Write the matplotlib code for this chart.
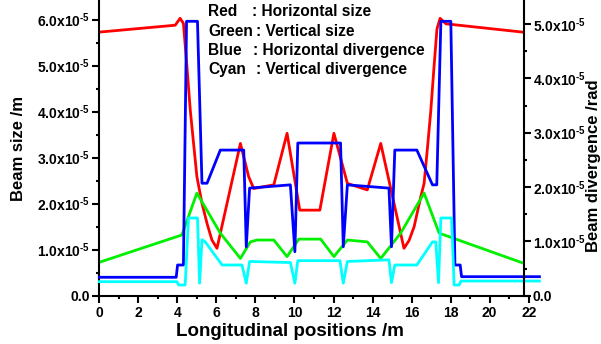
import matplotlib
matplotlib.use("Agg")
import matplotlib.pyplot as plt
from matplotlib.ticker import FuncFormatter, MultipleLocator

plt.rcParams['font.family'] = ['Liberation Sans', 'DejaVu Sans']
plt.rcParams['font.weight'] = 'bold'
plt.rcParams['mathtext.fontset'] = 'custom'
plt.rcParams['mathtext.rm'] = 'Liberation Sans:bold'
plt.rcParams['mathtext.it'] = 'Liberation Sans:bold'
plt.rcParams['mathtext.bf'] = 'Liberation Sans:bold'
plt.rcParams['mathtext.default'] = 'rm'

# ---- data (beam size in units of 1e-5 m, divergence in units of 1e-5 rad) ----
red_x = [0, 3.89, 4.14, 4.31, 4.49, 4.66, 4.83, 5.00, 5.26, 5.52, 5.77, 6.03,
         7.23, 7.65, 7.91, 8.94, 9.62, 10.27, 11.30, 12.02, 12.71, 13.73, 14.42,
         15.61, 15.87, 16.13, 16.47, 16.64, 16.81, 16.98, 17.15, 17.30, 17.46, 17.76, 21.69]
red_y = [5.73, 5.88, 6.03, 5.92, 4.98, 4.04, 3.31, 2.59, 2.01, 1.57, 1.21, 1.03,
         3.31, 2.59, 2.33, 2.41, 3.53, 1.86, 1.86, 3.53, 2.44, 2.30, 3.31,
         1.03, 1.20, 1.50, 2.15, 2.44, 3.20, 4.00, 4.98, 5.80, 6.03, 5.91, 5.73]

green_x = [0, 4.23, 5.00, 6.20, 7.23, 7.74, 8.08, 8.94, 9.62, 10.22, 11.34, 12.02,
           12.71, 13.73, 14.42, 15.44, 16.64, 17.41, 21.64]
green_y = [0.726, 1.32, 2.23, 1.36, 0.81, 1.17, 1.21, 1.21, 0.85, 1.23, 1.23, 0.85,
           1.21, 1.17, 0.81, 1.36, 2.23, 1.36, 0.72]

blue_x = [0, 3.94, 4.01, 4.31, 4.47, 5.03, 5.26, 5.52, 6.20, 7.40, 7.53, 7.70,
          9.79, 10.02, 10.17, 12.36, 12.50, 12.71, 14.84, 14.97, 15.14, 16.27,
          17.07, 17.29, 17.50, 18.01, 18.22, 18.49, 18.56, 22.55]
blue_y = [0.339, 0.339, 0.565, 0.565, 5.05, 5.05, 2.07, 2.07, 2.68, 2.68, 0.90, 1.98,
          2.04, 0.81, 2.81, 2.81, 0.90, 2.04, 1.98, 0.90, 2.68, 2.68,
          2.04, 2.04, 5.05, 5.05, 0.565, 0.565, 0.35, 0.35]

cyan_x = [0, 3.98, 4.06, 4.40, 4.57, 5.03, 5.14, 5.26, 5.43, 6.29, 7.31, 7.53, 7.70,
          9.79, 10.02, 10.17, 12.33, 12.50, 12.71, 14.84, 14.97, 15.14, 16.27,
          17.07, 17.24, 17.38, 17.50, 18.05, 18.18, 18.44, 18.53, 22.55]
cyan_y = [0.258, 0.258, 0.197, 0.197, 1.43, 1.43, 0.23, 1.03, 0.99, 0.565, 0.565, 0.23, 0.63,
          0.61, 0.23, 0.645, 0.645, 0.23, 0.63, 0.66, 0.24, 0.565, 0.565,
          0.99, 0.99, 0.24, 1.43, 1.43, 0.197, 0.197, 0.27, 0.27]

legend_names = ["Red", "Green", "Blue", "Cyan"]
legend_desc = [": Horizontal size", ": Vertical size",
               ": Horizontal divergence", ": Vertical divergence"]

xticks = [0, 2, 4, 6, 8, 10, 12, 14, 16, 18, 20, 22]
scale = 1e-5

fig = plt.figure(figsize=(6.01, 3.44), dpi=100)
ax = fig.add_axes([99.3 / 601, 48.3 / 344, 429.4 / 601, 295.7 / 344])
ax2 = ax.twinx()

lw = 2.0
ax.plot(red_x, [v * scale for v in red_y], color='#FF0000', lw=lw)
ax.plot(green_x, [v * scale for v in green_y], color='#00F000', lw=lw)
ax2.plot(blue_x, [v * scale for v in blue_y], color='#0000FF', lw=lw, clip_on=False)
ax2.plot(cyan_x, [v * scale for v in cyan_y], color='#00FFFF', lw=lw, clip_on=False)

ax.set_xlim(0, 22)
ax.set_ylim(0, 6.428e-5)
ax2.set_ylim(0, 5.442e-5)

def fmt(v, pos):
    m = v / scale
    if abs(m) < 1e-9:
        return "0.0"
    return "%.1fx10$^{\\text{-5}}$" % m

for a in (ax, ax2):
    a.yaxis.set_major_locator(MultipleLocator(1e-5))
    a.yaxis.set_minor_locator(MultipleLocator(0.5e-5))
    a.yaxis.set_major_formatter(FuncFormatter(fmt))
    for s in a.spines.values():
        s.set_linewidth(1.5)
    a.spines['top'].set_visible(False)

ax.spines['right'].set_visible(False)
ax2.spines['left'].set_visible(False)
ax2.spines['bottom'].set_visible(False)
ax2.spines['right'].set_position(('data', 21.77))

ax.set_xticks(xticks)
ax.xaxis.set_minor_locator(MultipleLocator(1))
ax.tick_params(axis='x', which='major', direction='out', length=5, width=1.5,
               labelsize=10, pad=2.5)
ax.tick_params(axis='x', which='minor', direction='out', length=2.5, width=1.5)
ax.tick_params(axis='y', which='major', direction='out', length=5, width=1.5,
               labelsize=10, pad=2)
ax.tick_params(axis='y', which='minor', direction='out', length=2.5, width=1.5)
ax2.tick_params(axis='y', which='major', direction='out', length=5, width=1.5,
                labelsize=10, pad=1)
ax2.tick_params(axis='y', which='minor', direction='out', length=2.5, width=1.5)

for lab in ax.get_xticklabels() + ax.get_yticklabels() + ax2.get_yticklabels():
    lab.set_fontweight('bold')

fig.text(290 / 601, 1 - 331 / 344, "Longitudinal positions /m", ha='center',
         va='center', fontsize=13.5, fontweight='bold')
fig.text(18.3 / 601, 1 - 148.5 / 344, "Beam size /m", ha='center', va='center',
         rotation=90, fontsize=12, fontweight='bold')
fig.text(593.5 / 601, 1 - 165.8 / 344, "Beam divergence /rad", ha='center',
         va='center', rotation=90, fontsize=12, fontweight='bold')

rows_y = [11.7, 31.2, 50.2, 69.2]
colon_px = [252.5, 256.5, 253.0, 256.0]
for name, desc, yy, cx in zip(legend_names, legend_desc, rows_y, colon_px):
    fig.text(208 / 601, 1 - yy / 344, name, ha='left', va='center',
             fontsize=11.2, fontweight='bold')
    fig.text(cx / 601, 1 - yy / 344, desc, ha='left', va='center',
             fontsize=11.2, fontweight='bold')

fig.savefig("out.png", dpi=100)
